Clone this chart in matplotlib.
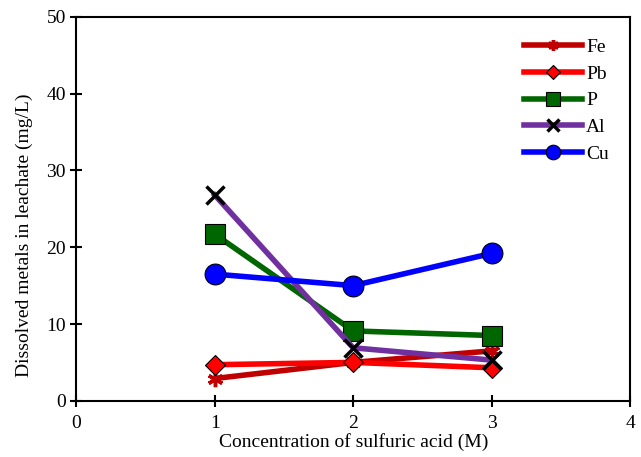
import matplotlib.pyplot as plt

plt.rcParams['font.family'] = ['Liberation Serif', 'DejaVu Serif']

conc = [1, 2, 3]
fe = [2.9, 5.0, 6.5]
pb = [4.7, 5.0, 4.3]
p = [21.7, 9.1, 8.5]
al = [26.8, 6.9, 5.3]
cu = [16.5, 15.0, 19.2]

fig = plt.figure(figsize=(6.41, 4.57), dpi=100)
ax = fig.add_axes([0.119, 0.123, 0.864, 0.840])

ax.plot(conc, fe, color='#C00000', lw=4, marker=(6, 2, 0), ms=11, mew=2.5,
        mec='#C00000', label='Fe')
ax.plot(conc, pb, color='#FF0000', lw=4, marker='D', ms=10, mfc='#FF0000',
        mec='black', mew=0.8, label='Pb')
ax.plot(conc, p, color='#006600', lw=4, marker='s', ms=14, mfc='#006600',
        mec='black', mew=0.8, label='P')
ax.plot(conc, al, color='#7030A0', lw=4, marker='x', ms=13, mec='black',
        mew=2.5, label='Al')
ax.plot(conc, cu, color='#0000FF', lw=4, marker='o', ms=15, mfc='#0000FF',
        mec='black', mew=0.8, label='Cu')

ax.set_xlim(0, 4)
ax.set_ylim(0, 50)
ax.set_xticks([0, 1, 2, 3, 4])
ax.set_yticks([0, 10, 20, 30, 40, 50])
ax.tick_params(direction='inout', length=8, width=1.5, labelsize=14)
ax.tick_params(axis='x', pad=6)
for s in ax.spines.values():
    s.set_linewidth(1.5)

ax.set_xlabel('Concentration of sulfuric acid (M)', fontsize=14)
ax.set_ylabel('Dissolved metals in leachate (mg/L)', fontsize=14)
ax.xaxis.set_label_coords(0.5, -0.083)
ax.yaxis.set_label_coords(-0.079, 0.432)

ax.legend(loc='upper right', frameon=False, fontsize=14, handlelength=3.0,
          labelspacing=0.47, handletextpad=0.2, borderaxespad=0.7,
          markerscale=0.7)

fig.savefig('out.png', dpi=100)
